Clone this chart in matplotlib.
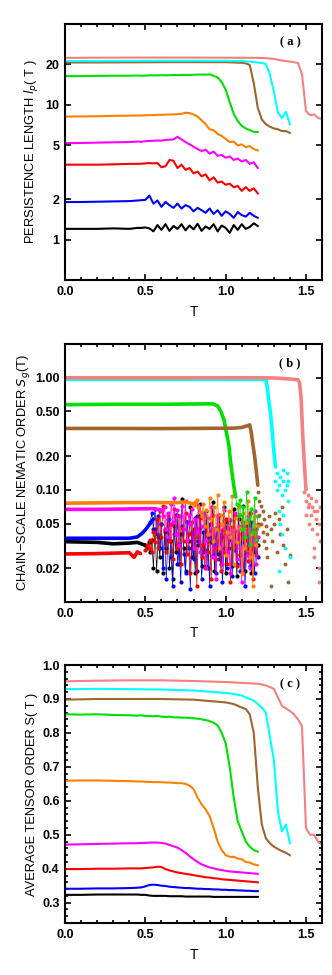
import numpy as np
import matplotlib
matplotlib.use("Agg")
from matplotlib import pyplot as plt
from matplotlib.ticker import FixedLocator, MultipleLocator, FormatStrFormatter, NullLocator

plt.rcParams["font.family"] = ["Liberation Sans", "DejaVu Sans"]

colors = ["black", "blue", "red", "magenta", "#ff8000", "#00e000", "#a0642d", "cyan", "#f4817e"]
names = ["black", "blue", "red", "magenta", "orange", "green", "brown", "cyan", "salmon"]

# temperature grids (series end at 1.2, 1.4 and 1.6)
T12 = [0.0, 0.1, 0.2, 0.3, 0.4, 0.45, 0.475, 0.5, 0.525, 0.55, 0.575, 0.6, 0.625, 0.65, 0.675,
       0.7, 0.725, 0.75, 0.775, 0.8, 0.825, 0.85, 0.875, 0.9, 0.925, 0.95, 0.975, 1.0, 1.025,
       1.05, 1.075, 1.1, 1.125, 1.15, 1.175, 1.2]
T14 = [0.0, 0.2, 0.4, 0.6, 0.8, 1.0, 1.05, 1.1, 1.125, 1.15, 1.175, 1.2, 1.225, 1.25, 1.275,
       1.3, 1.325, 1.35, 1.375, 1.4]
T16 = [0.0, 0.2, 0.4, 0.6, 0.8, 1.0, 1.2, 1.25, 1.3, 1.35, 1.4, 1.425, 1.45, 1.475, 1.5,
       1.525, 1.55, 1.575, 1.6]

# ---- (a) persistence length
lp_black = [1.2, 1.2, 1.2, 1.21, 1.2, 1.22, 1.22, 1.23, 1.21, 1.15, 1.28, 1.18, 1.3, 1.16, 1.26, 1.2,
            1.3, 1.17, 1.27, 1.19, 1.31, 1.16, 1.25, 1.2, 1.3, 1.15, 1.27, 1.22, 1.12, 1.28, 1.18, 1.3,
            1.2, 1.24, 1.32, 1.26]
lp_blue = [1.9, 1.9, 1.91, 1.92, 1.93, 1.95, 1.96, 1.97, 2.12, 1.85, 1.95, 1.75, 1.9, 1.8, 1.72, 1.85,
           1.7, 1.8, 1.75, 1.62, 1.72, 1.65, 1.58, 1.7, 1.55, 1.65, 1.5, 1.62, 1.55, 1.45, 1.6, 1.52,
           1.48, 1.58, 1.5, 1.45]
lp_red = [3.6, 3.6, 3.6, 3.62, 3.65, 3.65, 3.66, 3.68, 3.7, 3.68, 3.7, 3.45, 3.5, 3.9, 3.85, 3.4, 3.6,
          3.3, 3.4, 3.1, 3.2, 2.95, 3.05, 2.75, 2.9, 2.65, 2.7, 2.55, 2.6, 2.45, 2.5, 2.3, 2.45, 2.3,
          2.4, 2.2]
lp_magenta = [5.2, 5.22, 5.25, 5.28, 5.3, 5.35, 5.33, 5.38, 5.4, 5.42, 5.45, 5.43, 5.5, 5.52, 5.55,
              5.8, 5.55, 5.3, 5.1, 4.9, 4.7, 4.55, 4.65, 4.35, 4.5, 4.2, 4.25, 4.05, 4.15, 3.9, 4.0,
              3.8, 3.9, 3.65, 3.75, 3.4]
lp_orange = [8.2, 8.22, 8.25, 8.3, 8.33, 8.35, 8.35, 8.38, 8.4, 8.4, 8.45, 8.45, 8.48, 8.5, 8.5,
             8.55, 8.6, 8.75, 8.7, 8.5, 8.2, 7.7, 7.2, 6.6, 6.5, 6.1, 5.9, 5.6, 5.3, 5.35, 5.0, 5.1,
             4.85, 4.95, 4.7, 4.6]
lp_green = [16.4, 16.4, 16.45, 16.5, 16.5, 16.55, 16.5, 16.55, 16.6, 16.6, 16.6, 16.65, 16.6, 16.65,
            16.7, 16.7, 16.7, 16.75, 16.7, 16.8, 16.8, 16.85, 16.8, 16.9, 16.5, 16.0, 14.8, 13.0,
            10.5, 8.6, 7.6, 7.0, 6.7, 6.5, 6.3, 6.3]
lp_brown = [20.7, 20.7, 20.75, 20.8, 20.8, 20.8, 20.7, 20.6, 20.4, 19.8, 14.5, 9.5, 7.8, 7.2, 6.9,
            6.7, 6.6, 6.4, 6.4, 6.2]
lp_cyan = [21.2, 21.2, 21.25, 21.3, 21.3, 21.3, 21.2, 21.2, 21.1, 21.0, 20.9, 20.7, 20.5, 20.2,
           17.0, 12.5, 8.8, 8.0, 8.9, 7.2]
lp_salmon = [22.4, 22.45, 22.5, 22.5, 22.5, 22.45, 22.4, 22.3, 22.0, 21.4, 21.0, 20.8, 20.5, 17.0,
             9.0, 8.4, 8.5, 8.0, 7.9]

# ---- (b) chain-scale nematic order: ordered branch
sg_branch = {
    "black": ([0.0, 0.2, 0.3, 0.4, 0.45, 0.5], [0.0345, 0.034, 0.033, 0.0335, 0.034, 0.032]),
    "blue": ([0.0, 0.2, 0.4, 0.45, 0.48, 0.5, 0.52, 0.55], [0.037, 0.037, 0.037, 0.038, 0.041, 0.044, 0.048, 0.055]),
    "red": ([0.0, 0.2, 0.4, 0.43, 0.45, 0.47], [0.0268, 0.027, 0.0275, 0.025, 0.028, 0.027]),
    "magenta": ([0.0, 0.2, 0.4, 0.55, 0.6], [0.067, 0.067, 0.0675, 0.068, 0.066]),
    "orange": ([0.0, 0.2, 0.4, 0.6, 0.7, 0.75, 0.8], [0.076, 0.0765, 0.077, 0.077, 0.077, 0.078, 0.075]),
    "green": ([0.0, 0.3, 0.6, 0.92, 0.95, 0.97, 0.99, 1.0, 1.02, 1.03, 1.04, 1.05, 1.06],
              [0.575, 0.58, 0.58, 0.585, 0.56, 0.5, 0.42, 0.35, 0.25, 0.18, 0.14, 0.11, 0.09]),
    "brown": ([0.0, 0.3, 0.6, 1.05, 1.1, 1.14, 1.15, 1.16, 1.17, 1.18, 1.19, 1.2],
              [0.353, 0.353, 0.352, 0.355, 0.36, 0.375, 0.38, 0.32, 0.25, 0.2, 0.15, 0.11]),
    "cyan": ([0.0, 0.4, 0.8, 1.2, 1.25, 1.26, 1.27, 1.28, 1.29, 1.3, 1.31],
             [0.967, 0.967, 0.967, 0.966, 0.965, 0.8, 0.6, 0.47, 0.33, 0.22, 0.16]),
    "salmon": ([0.0, 0.4, 0.8, 1.2, 1.3, 1.4, 1.45, 1.46, 1.47, 1.48, 1.49, 1.5],
               [1.0, 1.0, 1.0, 1.0, 0.995, 0.975, 0.96, 0.9, 0.65, 0.3, 0.17, 0.1]),
}

# ---- (b) disordered scatter, values on a 0.01 grid ending at T = 1.2
T_cloud = np.round(np.linspace(0.50, 1.20, 71), 2)
sg_black = [0.032, 0.030, 0.034, 0.028, 0.036, 0.020, 0.045, 0.019, 0.038, 0.025, 0.050, 0.018, 0.042,
            0.030, 0.055, 0.020, 0.035, 0.016, 0.048, 0.028, 0.060, 0.022, 0.040, 0.083, 0.030, 0.019,
            0.052, 0.035, 0.070, 0.025, 0.045, 0.018, 0.058, 0.032, 0.075, 0.021, 0.042, 0.029, 0.065,
            0.020, 0.050, 0.034, 0.078, 0.019, 0.046, 0.027, 0.060, 0.022, 0.038, 0.070, 0.018, 0.052,
            0.030, 0.045, 0.021, 0.068, 0.033, 0.017, 0.055, 0.026, 0.040, 0.072, 0.019, 0.048, 0.030,
            0.062, 0.018, 0.044, 0.028, 0.036, 0.032]
sg_blue = [0.052, 0.062, 0.045, 0.068, 0.040, 0.058, 0.030, 0.050, 0.020, 0.044, 0.016, 0.036, 0.055,
           0.025, 0.014, 0.040, 0.060, 0.022, 0.033, 0.015, 0.048, 0.027, 0.018, 0.052, 0.030, 0.013,
           0.042, 0.024, 0.056, 0.019, 0.035, 0.046, 0.016, 0.028, 0.060, 0.021, 0.038, 0.014, 0.050,
           0.026, 0.033, 0.018, 0.058, 0.024, 0.040, 0.015, 0.030, 0.047, 0.020, 0.036, 0.054, 0.017,
           0.029, 0.043, 0.022, 0.060, 0.019, 0.034, 0.048, 0.014, 0.027, 0.040, 0.021, 0.052, 0.030,
           0.018, 0.045, 0.025]
sg_red = [0.029, 0.032, 0.030, 0.036, 0.028, 0.042, 0.034, 0.055, 0.030, 0.065, 0.038, 0.072, 0.045,
          0.028, 0.060, 0.035, 0.050, 0.024, 0.068, 0.040, 0.030, 0.058, 0.022, 0.046, 0.035, 0.062,
          0.027, 0.040, 0.018, 0.052, 0.030, 0.045, 0.014, 0.038, 0.056, 0.025, 0.033, 0.020, 0.048,
          0.028, 0.042, 0.016, 0.060, 0.030, 0.024, 0.050, 0.036, 0.019, 0.044, 0.028, 0.055, 0.022,
          0.038, 0.015, 0.047, 0.031, 0.058, 0.021, 0.040, 0.027, 0.052, 0.018, 0.036, 0.045, 0.023,
          0.062, 0.030, 0.016, 0.042, 0.026, 0.050]
sg_magenta = [0.066, 0.058, 0.070, 0.045, 0.062, 0.038, 0.075, 0.052, 0.085, 0.040, 0.066, 0.032,
              0.058, 0.072, 0.045, 0.080, 0.036, 0.060, 0.050, 0.068, 0.030, 0.055, 0.042, 0.074,
              0.028, 0.048, 0.062, 0.035, 0.020, 0.056, 0.040, 0.070, 0.025, 0.045, 0.016, 0.060,
              0.032, 0.050, 0.022, 0.066, 0.038, 0.028, 0.055, 0.018, 0.044, 0.035, 0.062, 0.024,
              0.048, 0.030, 0.015, 0.052, 0.040, 0.026, 0.058, 0.020, 0.045, 0.033, 0.065, 0.022, 0.038]
sg_orange = [0.074, 0.078, 0.082, 0.070, 0.064, 0.058, 0.075, 0.048, 0.066, 0.040, 0.085, 0.055, 0.035,
             0.070, 0.045, 0.090, 0.030, 0.060, 0.050, 0.078, 0.026, 0.042, 0.065, 0.038, 0.088, 0.022,
             0.056, 0.034, 0.072, 0.046, 0.018, 0.062, 0.030, 0.052, 0.080, 0.025, 0.040, 0.014, 0.058,
             0.032, 0.048]
sg_green = [0.088, 0.075, 0.060, 0.082, 0.045, 0.070, 0.038, 0.095, 0.055, 0.032, 0.068, 0.042, 0.085,
            0.036, 0.058]

# high-T scatter of the three stiffest chains
brown_T = [1.20, 1.21, 1.21, 1.22, 1.22, 1.23, 1.23, 1.24, 1.24, 1.25, 1.25, 1.26, 1.26, 1.27, 1.28,
           1.28, 1.29, 1.30, 1.31, 1.32, 1.33, 1.34, 1.35, 1.36, 1.37, 1.38, 1.39, 1.40]
brown_S = [0.095, 0.08, 0.06, 0.072, 0.05, 0.065, 0.042, 0.055, 0.035, 0.048, 0.03, 0.04, 0.025, 0.058,
           0.045, 0.014, 0.035, 0.05, 0.062, 0.028, 0.055, 0.04, 0.07, 0.032, 0.022, 0.045, 0.015, 0.026]
cyan_T = [1.31, 1.32, 1.32, 1.33, 1.33, 1.34, 1.34, 1.35, 1.35, 1.36, 1.36, 1.37, 1.37, 1.38, 1.38,
          1.39, 1.39, 1.40, 1.33, 1.36]
cyan_S = [0.12, 0.10, 0.14, 0.065, 0.11, 0.05, 0.13, 0.09, 0.04, 0.12, 0.15, 0.10, 0.03, 0.14, 0.11,
          0.12, 0.08, 0.025, 0.019, 0.06]
salmon_T = [1.49, 1.50, 1.50, 1.51, 1.51, 1.52, 1.52, 1.53, 1.53, 1.54, 1.54, 1.55, 1.55, 1.56, 1.56,
            1.57, 1.57, 1.58, 1.58, 1.59, 1.59, 1.60, 1.60, 1.58, 1.55]
salmon_S = [0.095, 0.08, 0.06, 0.09, 0.07, 0.075, 0.05, 0.085, 0.06, 0.045, 0.07, 0.065, 0.03, 0.055,
            0.08, 0.04, 0.065, 0.05, 0.02, 0.07, 0.035, 0.055, 0.045, 0.015, 0.025]

# ---- (c) average tensor order
s_black = [0.323, 0.323, 0.324, 0.324, 0.324, 0.324, 0.323, 0.323, 0.321, 0.320, 0.320, 0.320, 0.320,
           0.319, 0.319, 0.319, 0.319, 0.318, 0.318, 0.318, 0.318, 0.318, 0.318, 0.318, 0.317, 0.317,
           0.317, 0.317, 0.317, 0.317, 0.317, 0.317, 0.317, 0.317, 0.317, 0.317]
s_blue = [0.341, 0.341, 0.342, 0.342, 0.343, 0.344, 0.345, 0.348, 0.352, 0.353, 0.352, 0.350, 0.349,
          0.347, 0.346, 0.345, 0.344, 0.343, 0.343, 0.342, 0.341, 0.341, 0.340, 0.340, 0.339, 0.339,
          0.338, 0.338, 0.337, 0.337, 0.336, 0.336, 0.335, 0.335, 0.334, 0.334]
s_red = [0.399, 0.399, 0.400, 0.400, 0.401, 0.401, 0.401, 0.402, 0.403, 0.404, 0.406, 0.405, 0.399,
         0.395, 0.392, 0.389, 0.387, 0.385, 0.383, 0.381, 0.379, 0.377, 0.375, 0.374, 0.372, 0.371,
         0.369, 0.368, 0.367, 0.366, 0.365, 0.364, 0.363, 0.362, 0.361, 0.360]
s_magenta = [0.471, 0.472, 0.473, 0.474, 0.475, 0.475, 0.476, 0.476, 0.477, 0.477, 0.477, 0.476, 0.474,
             0.470, 0.466, 0.462, 0.455, 0.447, 0.437, 0.428, 0.420, 0.413, 0.408, 0.404, 0.401, 0.398,
             0.396, 0.394, 0.392, 0.391, 0.390, 0.389, 0.388, 0.387, 0.386, 0.385]
s_orange = [0.659, 0.660, 0.660, 0.659, 0.658, 0.657, 0.657, 0.656, 0.656, 0.655, 0.655, 0.655, 0.654,
            0.654, 0.653, 0.652, 0.652, 0.650, 0.645, 0.635, 0.610, 0.590, 0.575, 0.555, 0.520, 0.480,
            0.455, 0.440, 0.435, 0.435, 0.430, 0.428, 0.420, 0.418, 0.413, 0.410]
s_green = [0.855, 0.854, 0.855, 0.853, 0.852, 0.851, 0.852, 0.850, 0.850, 0.849, 0.850, 0.848, 0.847,
           0.848, 0.846, 0.846, 0.845, 0.845, 0.844, 0.843, 0.842, 0.840, 0.838, 0.835, 0.830, 0.822,
           0.800, 0.770, 0.700, 0.610, 0.540, 0.510, 0.480, 0.465, 0.455, 0.450]
s_brown = [0.898, 0.900, 0.900, 0.900, 0.898, 0.890, 0.885, 0.875, 0.870, 0.855, 0.800, 0.640, 0.530,
           0.490, 0.475, 0.465, 0.458, 0.452, 0.447, 0.440]
s_cyan = [0.929, 0.930, 0.929, 0.928, 0.925, 0.918, 0.915, 0.910, 0.905, 0.900, 0.895, 0.885, 0.875,
          0.860, 0.790, 0.720, 0.570, 0.510, 0.530, 0.475]
s_salmon = [0.952, 0.954, 0.955, 0.955, 0.953, 0.950, 0.945, 0.940, 0.930, 0.880, 0.865, 0.855, 0.840,
            0.820, 0.520, 0.500, 0.500, 0.480, 0.470]

lp = [lp_black, lp_blue, lp_red, lp_magenta, lp_orange, lp_green, lp_brown, lp_cyan, lp_salmon]
s_all = [s_black, s_blue, s_red, s_magenta, s_orange, s_green, s_brown, s_cyan, s_salmon]
grids = [T12] * 6 + [T14, T14, T16]
clouds = [sg_black, sg_blue, sg_red, sg_magenta, sg_orange, sg_green]

fig = plt.figure(figsize=(3.32, 9.75), dpi=100)
ax_a = fig.add_axes([0.196, 0.7128, 0.774, 0.2626])
ax_b = fig.add_axes([0.196, 0.3826, 0.774, 0.2646])
ax_c = fig.add_axes([0.196, 0.0533, 0.774, 0.2646])

for T, y, c in zip(grids, lp, colors):
    ax_a.plot(T, y, color=c, lw=1.5)

for i, (name, c) in enumerate(zip(names, colors)):
    bt, bs = sg_branch[name]
    ax_b.plot(bt, bs, color=c, lw=2.6, solid_capstyle="round")
    if i < 6:
        cl = clouds[i]
        ax_b.plot(T_cloud[-len(cl):], cl, "-o", color=c, lw=0.5, ms=3.0, mew=0)
ax_b.plot(brown_T, brown_S, "o", color=colors[6], ms=2.8, mew=0)
ax_b.plot(cyan_T, cyan_S, "o", color=colors[7], ms=2.8, mew=0)
ax_b.plot(salmon_T, salmon_S, "o", color=colors[8], ms=2.8, mew=0)

for T, y, c in zip(grids, s_all, colors):
    ax_c.plot(T, y, color=c, lw=1.5)

ax_a.set_yscale("log")
ax_a.set_ylim(0.5, 40)
ax_a.yaxis.set_major_locator(FixedLocator([1, 2, 5, 10, 20]))
ax_a.yaxis.set_major_formatter(FormatStrFormatter("%g"))
ax_a.yaxis.set_minor_locator(NullLocator())
ax_a.set_ylabel("PERSISTENCE LENGTH $l_p$( T )", fontsize=9.3, labelpad=3)

ax_b.set_yscale("log")
ax_b.set_ylim(0.01, 2.0)
ax_b.yaxis.set_major_locator(FixedLocator([0.02, 0.05, 0.1, 0.2, 0.5, 1.0]))
ax_b.yaxis.set_major_formatter(FormatStrFormatter("%.2f"))
ax_b.yaxis.set_minor_locator(NullLocator())
ax_b.set_ylabel("CHAIN\u2212SCALE NEMATIC ORDER $S_g$(T)", fontsize=9.3, labelpad=2)

ax_c.set_ylim(0.24, 1.0)
ax_c.yaxis.set_major_locator(MultipleLocator(0.1))
ax_c.yaxis.set_minor_locator(MultipleLocator(0.02))
ax_c.yaxis.set_major_formatter(FormatStrFormatter("%.1f"))
ax_c.set_ylabel("AVERAGE TENSOR ORDER S( T )", fontsize=9.3, labelpad=3)

for ax, tag in zip([ax_a, ax_b, ax_c], ["( a )", "( b )", "( c )"]):
    ax.set_xlim(0, 1.6)
    ax.xaxis.set_major_locator(MultipleLocator(0.5))
    ax.xaxis.set_minor_locator(MultipleLocator(0.1))
    ax.xaxis.set_major_formatter(FormatStrFormatter("%.1f"))
    ax.set_xlabel("T", fontsize=10, labelpad=5)
    ax.tick_params(which="both", direction="in", top=True, right=True, width=1.2)
    ax.tick_params(which="major", length=4.5, labelsize=9, pad=4)
    ax.tick_params(which="minor", length=2.5)
    for lab in ax.get_xticklabels() + ax.get_yticklabels():
        lab.set_fontweight("bold")
    for sp in ax.spines.values():
        sp.set_linewidth(1.5)
    ax.text(0.875, 0.927, tag, transform=ax.transAxes, ha="center", va="center",
            fontsize=9, fontweight="bold", family=["Liberation Serif", "DejaVu Serif"])

fig.savefig("out.png", dpi=100)
